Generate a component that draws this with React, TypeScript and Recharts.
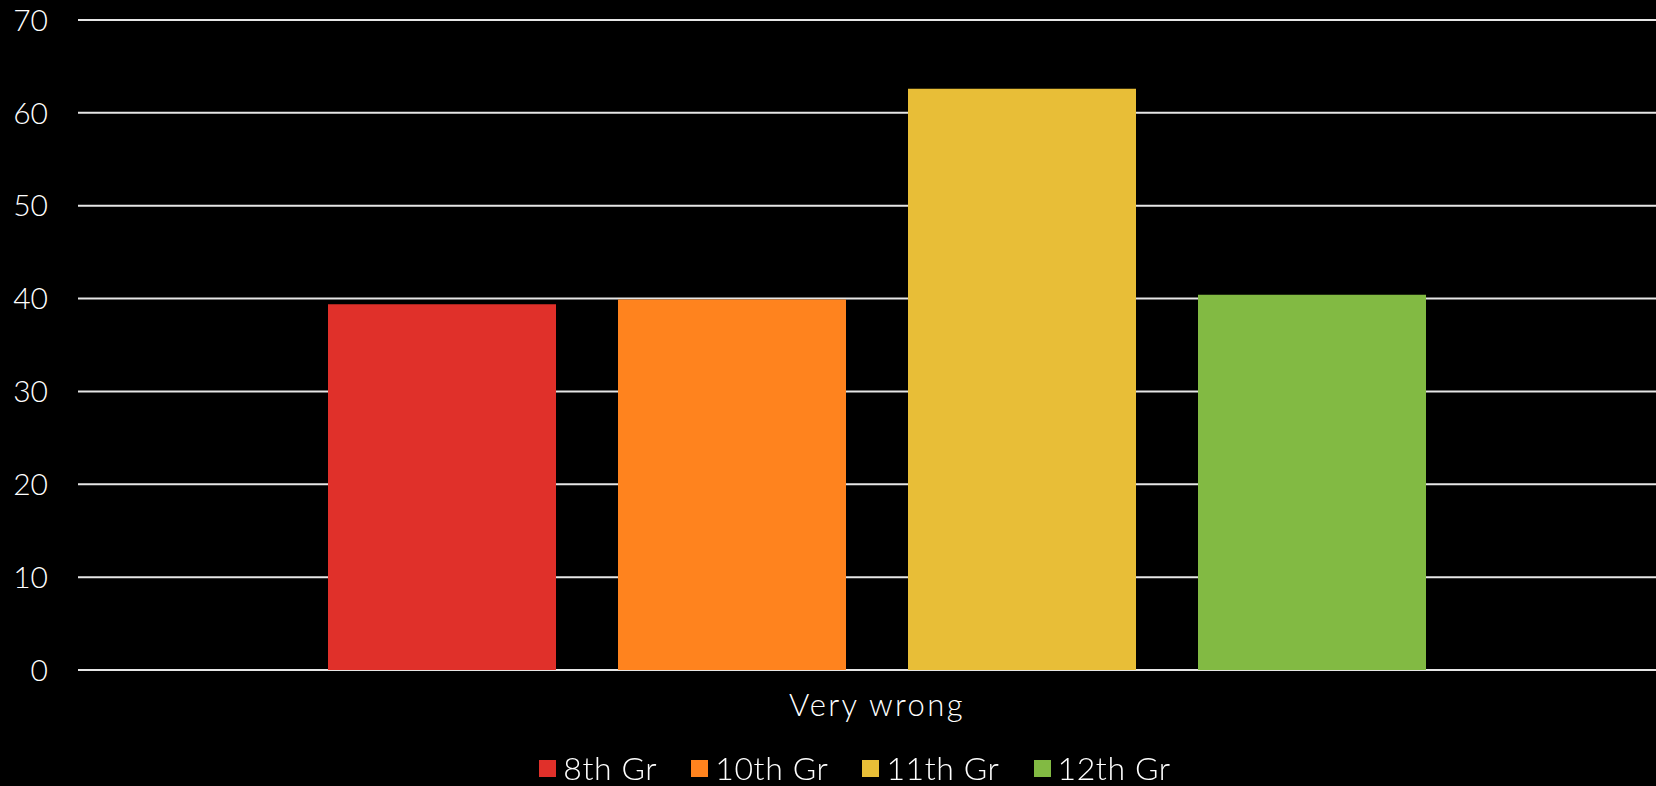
import { BarChart, Bar, XAxis, YAxis, CartesianGrid, Legend } from "recharts";

const categories = ["Very wrong"];
const seriesNames = ["8th Gr", "10th Gr", "11th Gr", "12th Gr"];
const seriesValues = [[39.4], [39.9], [62.6], [40.4]];
const seriesColors = ["#E0302A", "#FF831E", "#E8BE37", "#82BA43"];
const yTicks = [0, 10, 20, 30, 40, 50, 60, 70];

const data = categories.map((name, i) => {
  const row: Record<string, string | number> = { name };
  seriesNames.forEach((s, j) => {
    row[s] = seriesValues[j][i];
  });
  return row;
});

const FONT = "Lato, 'Open Sans', sans-serif";

const LegendContent = () => (
  <div style={{ display: "flex", justifyContent: "center", alignItems: "center", gap: 34, height: 36, paddingLeft: 54,
    fontFamily: FONT, fontWeight: 300, fontSize: 32, lineHeight: 1, letterSpacing: 0.6, color: "#fff" }}>
    {seriesNames.map((s, i) => (
      <div key={s} style={{ display: "flex", alignItems: "center", gap: 7 }}>
        <div style={{ width: 17, height: 17, background: seriesColors[i] }} />
        <span style={{ lineHeight: 1 }}>{s}</span>
      </div>
    ))}
  </div>
);

export default function App() {
  return (
    <div style={{ position: "fixed", left: 0, top: 0, width: 1656, height: 786, background: "#000" }}>
      <BarChart width={1656} height={786} data={data} margin={{ top: 20, right: 0, left: 0, bottom: 0 }} barGap={62} barSize={228}>
        <CartesianGrid horizontal vertical={false} stroke="#e6e6e6" strokeWidth={2} />
        <XAxis dataKey="name" axisLine={false} tickLine={false} tickSize={0} tickMargin={24} height={80} padding={{ left: 20, right: 0 }}
          tick={{ fill: "#fff", fontSize: 31, fontFamily: FONT, fontWeight: 300, letterSpacing: 2.4 }} />
        <YAxis domain={[0, 70]} ticks={yTicks} width={78} axisLine={false} tickLine={false} tickSize={0} tickMargin={30}
          tick={{ fill: "#fff", fontSize: 30, fontFamily: FONT, fontWeight: 300 }} />
        <Legend verticalAlign="bottom" content={<LegendContent />} wrapperStyle={{ height: 36 }} />
        {seriesNames.map((s, i) => (
          <Bar key={s} dataKey={s} fill={seriesColors[i]} isAnimationActive={false} />
        ))}
      </BarChart>
    </div>
  );
}
